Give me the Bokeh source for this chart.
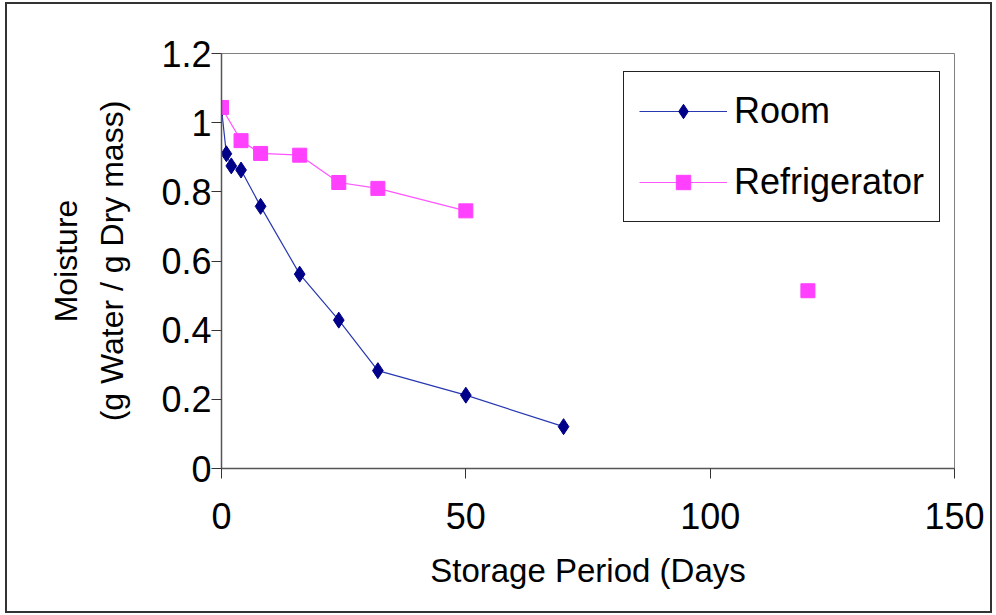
from bokeh.plotting import figure
from bokeh.layouts import column
from bokeh.models import Range1d, FixedTicker, Legend, LegendItem
from bokeh.embed import file_html
from bokeh.resources import INLINE

# ---- data ----
room_days = [0, 1, 2, 4, 8, 16, 24, 32, 50, 70]
room_moisture = [1.04, 0.91, 0.875, 0.863, 0.758, 0.562, 0.429, 0.283, 0.212, 0.121]

fridge_days = [0, 4, 8, 16, 24, 32, 50, 120]
fridge_moisture = [1.044, 0.948, 0.911, 0.906, 0.827, 0.810, 0.745, 0.514]
fridge_joined = 7  # the first 7 points are joined by a line; the last stands alone

x_ticks = [0, 50, 100, 150]
x_tick_labels = ["0", "50", "100", "150"]
y_ticks = [0, 0.2, 0.4, 0.6, 0.8, 1.0, 1.2]
y_tick_labels = ["0", "0.2", "0.4", "0.6", "0.8", "1", "1.2"]

series_names = ["Room", "Refrigerator"]
x_title = "Storage Period (Days"
y_title = "Moisture\n(g Water / g Dry mass)"

FONT = "Liberation Sans"

fig = figure(width=983, height=607, output_backend="svg", toolbar_location=None,
             x_range=Range1d(0, 150), y_range=Range1d(0, 1.2),
             min_border_left=214, min_border_right=36,
             min_border_top=49, min_border_bottom=143,
             background_fill_color="white", border_fill_color="white")

fig.grid.visible = False
fig.outline_line_color = "#808080"
fig.outline_line_width = 1

for ax in (fig.xaxis[0], fig.yaxis[0]):
    ax.axis_line_color = "#555555"
    ax.axis_line_width = 1.5
    ax.major_tick_line_color = "#333333"
    ax.major_tick_out = 10
    ax.major_tick_in = 0
    ax.minor_tick_out = 0
    ax.minor_tick_in = 0
    ax.major_label_text_font = FONT
    ax.major_label_text_font_size = "36px"
    ax.major_label_text_color = "black"
    ax.axis_label_text_font = FONT
    ax.axis_label_text_font_style = "normal"
    ax.axis_label_text_color = "black"

fig.xaxis.ticker = FixedTicker(ticks=x_ticks)
fig.xaxis.major_label_overrides = dict(zip(x_ticks, x_tick_labels))
fig.xaxis.major_label_standoff = 24
fig.xaxis.axis_label = x_title
fig.xaxis.axis_label_text_font_size = "33px"
fig.xaxis.axis_label_standoff = 20

fig.yaxis.ticker = FixedTicker(ticks=y_ticks)
fig.yaxis.major_label_overrides = dict(zip(y_ticks, y_tick_labels))
fig.yaxis.major_label_standoff = 0
fig.yaxis.axis_label = y_title
fig.yaxis.axis_label_text_font_size = "32px"
fig.yaxis.axis_label_text_line_height = 1.3
fig.yaxis.axis_label_standoff = 28

room_line = fig.line(room_days, room_moisture, line_color="#2838B0", line_width=1.2)
room_pts = fig.scatter(room_days, room_moisture, marker="diamond", size=16,
                       fill_color="#000088", line_color="#000088")

fridge_line = fig.line(fridge_days[:fridge_joined], fridge_moisture[:fridge_joined],
                       line_color="#FF55FF", line_width=1.2)
fridge_pts = fig.scatter(fridge_days, fridge_moisture, marker="square", size=14,
                         fill_color="#FF40FF", line_color="#FF40FF")

legend = Legend(items=[LegendItem(label=series_names[0], renderers=[room_line, room_pts]),
                       LegendItem(label=series_names[1], renderers=[fridge_line, fridge_pts])],
                location=(402, 246),
                padding=15, spacing=23, glyph_width=88, glyph_height=36,
                label_height=48, label_standoff=7,
                label_text_font=FONT, label_text_font_size="36px", label_text_color="black",
                border_line_color="#222222", border_line_alpha=1, border_line_width=1,
                background_fill_color="white", background_fill_alpha=1)
fig.add_layout(legend, "center")

# outer chart border drawn by a wrapping layout
p = column(fig, styles={"border": "2px solid #333333", "margin-left": "5px",
                        "margin-top": "2px", "background": "white"})

open("out.html", "w").write(file_html(p, INLINE))
